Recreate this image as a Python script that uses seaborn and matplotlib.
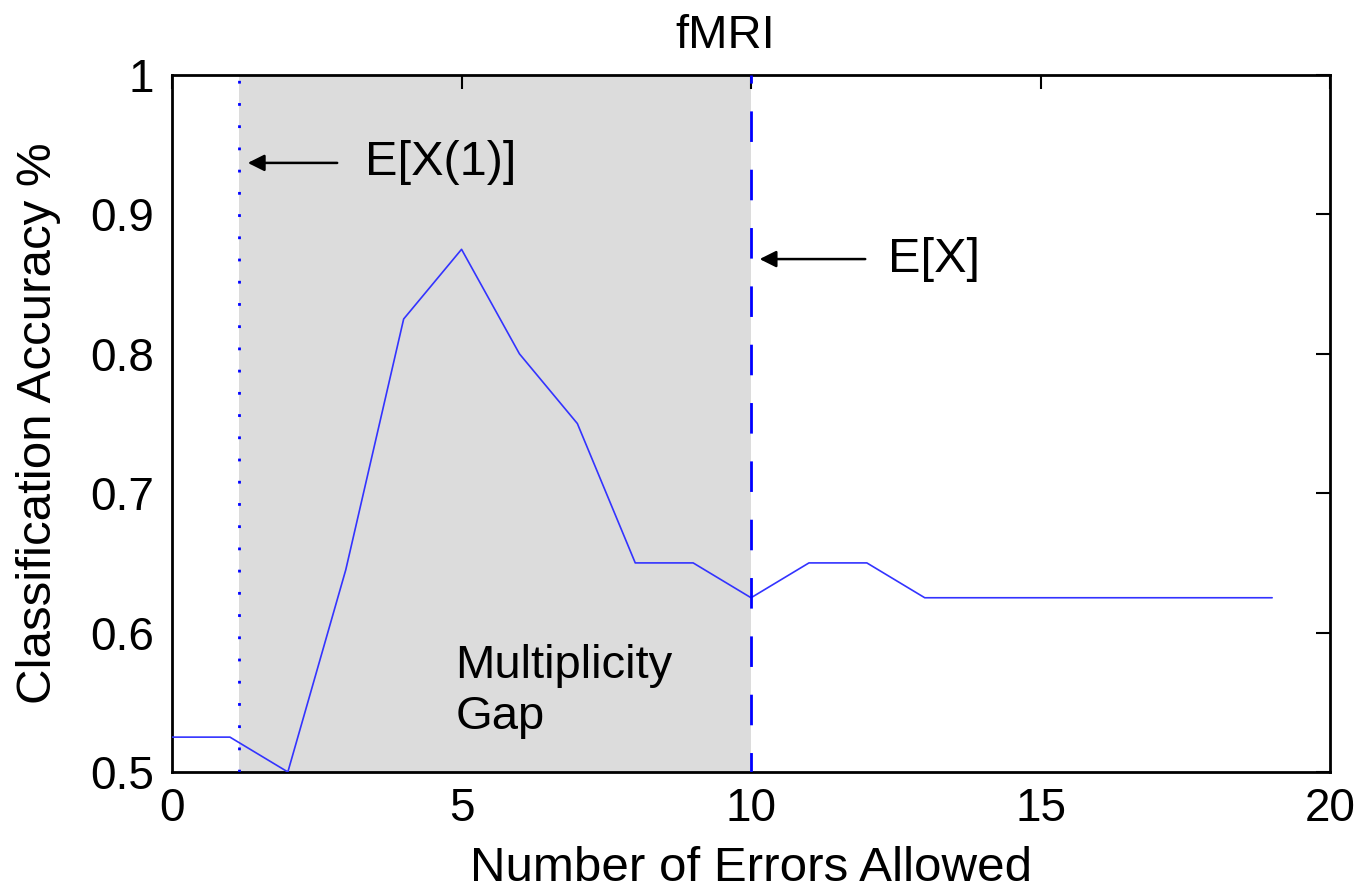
import matplotlib
matplotlib.use("Agg")
import matplotlib.pyplot as plt
import seaborn as sns
import pandas as pd

errors = list(range(20))
accuracy = [0.525, 0.525, 0.5, 0.645, 0.825, 0.875, 0.8, 0.75, 0.65, 0.65,
            0.625, 0.65, 0.65, 0.625, 0.625, 0.625, 0.625, 0.625, 0.625, 0.625]
ex1 = 1.15
ex = 10.0
x_ticks = [0, 5, 10, 15, 20]
y_ticks = [0.5, 0.6, 0.7, 0.8, 0.9, 1.0]
y_labels = ["0.5", "0.6", "0.7", "0.8", "0.9", "1"]

sns.set_theme(style="white")
plt.rcParams['font.family'] = ['Liberation Sans', 'DejaVu Sans']
plt.rcParams['text.color'] = 'black'
plt.rcParams['axes.labelcolor'] = 'black'

df = pd.DataFrame({"errors": errors, "accuracy": accuracy})

fig = plt.figure(figsize=(13.59, 8.94), dpi=100)
ax = fig.add_axes([0.1266, 0.1365, 0.8521, 0.7795])

ax.axvspan(ex1, ex, color="#dcdcdc", zorder=0, lw=0)
sns.lineplot(data=df, x="errors", y="accuracy", ax=ax, color="#3333ff", lw=1.2, zorder=3)
ax.axvline(ex1, color="#0000ff", ls=(0, (1, 7)), lw=2.0, zorder=4)
ax.axvline(ex, color="#0000ff", ls=(4, (11, 10)), lw=2.0, zorder=4)

ax.set_xlim(0, 20)
ax.set_ylim(0.5, 1.0)
ax.set_xticks(x_ticks)
ax.set_xticklabels([str(t) for t in x_ticks])
ax.set_yticks(y_ticks)
ax.set_yticklabels(y_labels)
ax.tick_params(direction="in", length=10, width=1.5, top=True, right=True,
               labelsize=33, colors="black")
ax.tick_params(axis="x", pad=11)
ax.tick_params(axis="y", pad=13)
for s in ax.spines.values():
    s.set_color("black")
    s.set_linewidth(2)
    s.set_visible(True)

ax.set_xlabel("Number of Errors Allowed", fontsize=35.5, color="black")
ax.xaxis.set_label_coords(0.5, -0.1564)
ax.xaxis.label.set_verticalalignment("baseline")
ax.set_ylabel("Classification Accuracy %", fontsize=35.5, color="black")
ax.yaxis.set_label_coords(-0.1157, 0.5)
ax.yaxis.label.set_verticalalignment("center")

fig.text(725 / 1359, 1 - 48 / 894, "fMRI", fontsize=34, ha="center", va="baseline", color="black")

ax.annotate("", xy=(1.26, 0.937), xytext=(2.9, 0.937),
            arrowprops=dict(arrowstyle="-|>", color="black", lw=1.8, mutation_scale=25), zorder=5)
ax.text(3.33, 0.928, "E[X(1)]", fontsize=35, va="baseline", ha="left", color="black")
ax.annotate("", xy=(10.1, 0.868), xytext=(12.02, 0.868),
            arrowprops=dict(arrowstyle="-|>", color="black", lw=1.8, mutation_scale=25), zorder=5)
ax.text(12.37, 0.859, "E[X]", fontsize=35, va="baseline", ha="left", color="black")
ax.text(4.89, 0.558, "Multiplicity\nGap", fontsize=34, va="center", ha="left",
        linespacing=1.2, color="black")

fig.savefig("out.png", dpi=100)
